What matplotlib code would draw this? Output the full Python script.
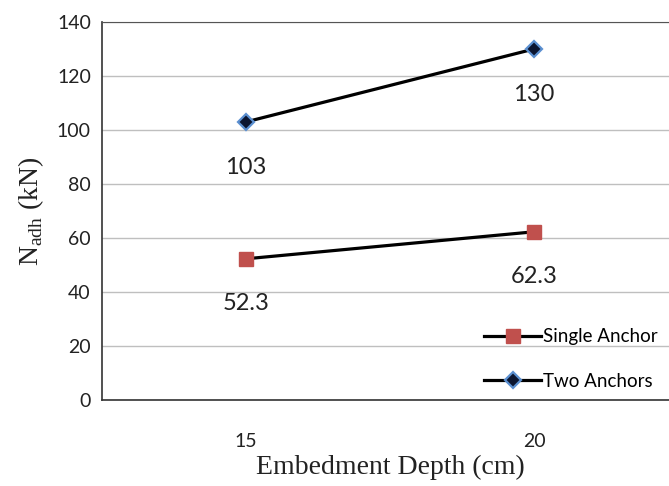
import matplotlib.pyplot as plt

depths = ["15", "20"]
single_anchor = [52.3, 62.3]
two_anchors = [103, 130]
y_ticks = [0, 20, 40, 60, 80, 100, 120, 140]

fig = plt.figure(figsize=(6.69, 4.86), dpi=100)
# plot area runs past the right edge of the picture, as in the reference
ax = fig.add_axes([102 / 669, 86 / 486, 576 / 669, 378 / 486])

pos = list(range(len(depths)))

ax.plot(pos, single_anchor, color="black", lw=2.3, marker="s", ms=10,
        mfc="#C0504D", mec="#C0504D", label="Single Anchor", zorder=3)
ax.plot(pos, two_anchors, color="black", lw=2.3, marker="D", ms=8,
        mfc="#0b1530", mec="#5B8FD0", mew=1.6, label="Two Anchors", zorder=3)

for x, v in zip(pos, two_anchors):
    ax.annotate(f"{v:g}", (x, v), xytext=(0, -33), textcoords="offset points",
                ha="center", va="center", fontsize=17, family="Lato", color="#222222")
for x, v in zip(pos, single_anchor):
    ax.annotate(f"{v:g}", (x, v), xytext=(0, -32), textcoords="offset points",
                ha="center", va="center", fontsize=17, family="Lato", color="#222222")

ax.set_xlim(-0.5, len(depths) - 0.5)
ax.set_ylim(0, 140)
ax.set_yticks(y_ticks)
ax.set_xticks(pos)
ax.set_xticklabels(depths)

ax.grid(axis="y", color="#BFBFBF", lw=1)
ax.set_axisbelow(True)
for s in ["left", "bottom"]:
    ax.spines[s].set_color("#333333")
    ax.spines[s].set_linewidth(1.2)
ax.spines["top"].set_color("#555555")
ax.spines["right"].set_visible(False)

ax.tick_params(axis="both", length=0, labelcolor="#222222", labelsize=14,
               labelfontfamily="Lato")
ax.tick_params(axis="y", pad=8)
ax.tick_params(axis="x", pad=24)

ax.set_xlabel("Embedment Depth (cm)", family="Liberation Serif", fontsize=20,
              color="#222222", labelpad=3)
ax.set_ylabel(r"N$_{\mathregular{adh}}$ (kN)", family="Liberation Serif", fontsize=20,
              color="#222222", labelpad=8)

leg = ax.legend(loc="lower left", bbox_to_anchor=(475 / 669, 87 / 486),
                bbox_transform=fig.transFigure, frameon=False,
                prop={"family": "Lato", "size": 13.5}, handlelength=3.0,
                handletextpad=0.15, labelspacing=1.45, borderpad=0)

fig.savefig("out.png", dpi=100)
